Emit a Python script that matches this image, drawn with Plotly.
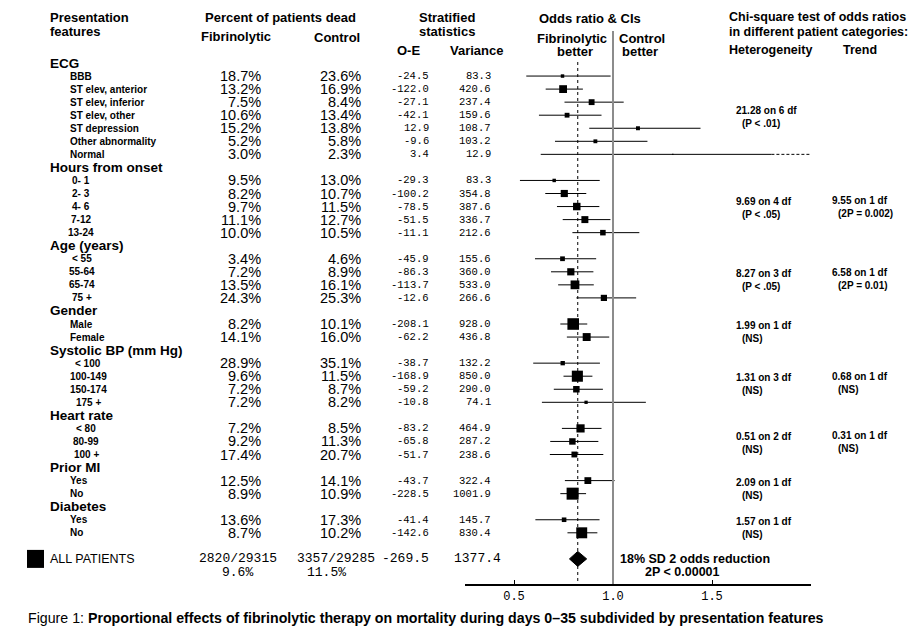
import math

import plotly.graph_objects as go

W, H = 922, 630
SANS = "Liberation Sans, Arial, Helvetica, sans-serif"
MONO = "Liberation Mono, Courier New, monospace"
NARROW = "Liberation Sans Narrow, Arial Narrow, Liberation Sans, Arial, sans-serif"

# ---- data ----
groups = ["ECG", "Hours from onset", "Age (years)", "Gender",
          "Systolic BP (mm Hg)", "Heart rate", "Prior MI", "Diabetes"]
subgroups = [
    ["BBB", "ST elev, anterior", "ST elev, inferior", "ST elev, other",
     "ST depression", "Other abnormality", "Normal"],
    ["0- 1", "2- 3", "4- 6", "7-12", "13-24"],
    ["< 55", "55-64", "65-74", "75 +"],
    ["Male", "Female"],
    ["< 100", "100-149", "150-174", "175 +"],
    ["< 80", "80-99", "100 +"],
    ["Yes", "No"],
    ["Yes", "No"],
]
fib_pct = [18.7, 13.2, 7.5, 10.6, 15.2, 5.2, 3.0,
           9.5, 8.2, 9.7, 11.1, 10.0,
           3.4, 7.2, 13.5, 24.3,
           8.2, 14.1,
           28.9, 9.6, 7.2, 7.2,
           7.2, 9.2, 17.4,
           12.5, 8.9,
           13.6, 8.7]
ctrl_pct = [23.6, 16.9, 8.4, 13.4, 13.8, 5.8, 2.3,
            13.0, 10.7, 11.5, 12.7, 10.5,
            4.6, 8.9, 16.1, 25.3,
            10.1, 16.0,
            35.1, 11.5, 8.7, 8.2,
            8.5, 11.3, 20.7,
            14.1, 10.9,
            17.3, 10.2]
o_minus_e = [-24.5, -122.0, -27.1, -42.1, 12.9, -9.6, 3.4,
             -29.3, -100.2, -78.5, -51.5, -11.1,
             -45.9, -86.3, -113.7, -12.6,
             -208.1, -62.2,
             -38.7, -168.9, -59.2, -10.8,
             -83.2, -65.8, -51.7,
             -43.7, -228.5,
             -41.4, -142.6]
variance = [83.3, 420.6, 237.4, 159.6, 108.7, 103.2, 12.9,
            83.3, 354.8, 387.6, 336.7, 212.6,
            155.6, 360.0, 533.0, 266.6,
            928.0, 436.8,
            132.2, 850.0, 290.0, 74.1,
            464.9, 287.2, 238.6,
            322.4, 1001.9,
            145.7, 830.4]
odds_ratio = [0.745, 0.748, 0.892, 0.768, 1.126, 0.911, 1.302,
              0.703, 0.754, 0.817, 0.858, 0.949,
              0.745, 0.787, 0.808, 0.954,
              0.799, 0.867,
              0.746, 0.820, 0.815, 0.864,
              0.836, 0.795, 0.805,
              0.873, 0.796,
              0.753, 0.842]
ci_low = [0.562, 0.660, 0.755, 0.626, 0.880, 0.707, 0.635,
          0.530, 0.658, 0.717, 0.746, 0.795,
          0.606, 0.687, 0.723, 0.815,
          0.734, 0.767,
          0.597, 0.750, 0.701, 0.641,
          0.742, 0.683, 0.681,
          0.757, 0.734,
          0.608, 0.770]
ci_high = [0.988, 0.848, 1.054, 0.942, 1.442, 1.174, 2.667,
           0.933, 0.865, 0.931, 0.987, 1.133,
           0.915, 0.901, 0.903, 1.117,
           0.870, 0.981,
           0.934, 0.896, 0.949, 1.166,
           0.942, 0.926, 0.951,
           1.008, 0.864,
           0.932, 0.921]

het_stat = ["21.28 on 6 df", "9.69 on 4 df", "8.27 on 3 df", "1.99 on 1 df",
            "1.31 on 3 df", "0.51 on 2 df", "2.09 on 1 df", "1.57 on 1 df"]
het_p = ["(P < .01)", "(P < .05)", "(P < .05)", "(NS)", "(NS)", "(NS)", "(NS)", "(NS)"]
trend_stat = [None, "9.55 on 1 df", "6.58 on 1 df", None, "0.68 on 1 df", "0.31 on 1 df", None, None]
trend_p = [None, "(2P = 0.002)", "(2P = 0.01)", None, "(NS)", "(NS)", None, None]

all_fib = (2820, 29315, 9.6)
all_ctrl = (3357, 29285, 11.5)
all_oe, all_var = -269.5, 1377.4
all_or, all_lo, all_hi = 0.822, 0.780, 0.867

# ---- layout helpers ----
ROW0, ROWH = 63, 13.05
label_pos = [("left", 69), ("center", 81), ("center", 82), ("left", 69),
             ("center", 88), ("center", 86), ("left", 69), ("left", 69)]
ann = []


def txt(x, y, s, size=13, bold=False, anchor="left", family=SANS, yref="y"):
    ann.append(dict(x=x / W, xref="paper", y=y, yref=yref,
                    text=f"<b>{s}</b>" if bold else s, showarrow=False,
                    xanchor=anchor, yanchor="middle", borderpad=0,
                    font=dict(size=size, family=family, color="black")))


# column headers
txt(49, 17, "Presentation", bold=True)
txt(49, 31, "features", bold=True)
txt(280, 17, "Percent of patients dead", bold=True, anchor="center")
txt(236, 36, "Fibrinolytic", bold=True, anchor="center")
txt(337, 37, "Control", bold=True, anchor="center")
txt(447, 17, "Stratified", bold=True, anchor="center")
txt(447, 31, "statistics", bold=True, anchor="center")
txt(408, 50, "O-E", bold=True, anchor="center")
txt(477, 50, "Variance", bold=True, anchor="center")
txt(538, 18, "Odds ratio &amp; CIs", bold=True)
txt(608, 38, "Fibrinolytic", bold=True, anchor="right")
txt(575, 51, "better", bold=True, anchor="center")
txt(618, 38, "Control", bold=True)
txt(640, 51, "better", bold=True, anchor="center")
txt(728, 17, "Chi-square test of odds ratios", size=12.5, bold=True)
txt(728, 32, "in different patient categories:", size=12.5, bold=True)
txt(728, 50, "Heterogeneity", size=12.5, bold=True)
txt(842, 50, "Trend", size=12.5, bold=True)

row_y = []
k = 0
i = 0
for g, (name, subs) in enumerate(zip(groups, subgroups)):
    txt(49, ROW0 + k * ROWH, name, size=13.5, bold=True)
    k += 1
    ys = []
    for s in subs:
        y = ROW0 + k * ROWH
        anchor, lx = label_pos[g]
        txt(lx, y, s, size=10, bold=True, anchor=anchor)
        txt(262, y, f"{fib_pct[i]:.1f}%", size=14.5, anchor="right")
        txt(362, y, f"{ctrl_pct[i]:.1f}%", size=14.5, anchor="right")
        txt(430, y, f"{o_minus_e[i]:.1f}", size=10.5, anchor="right", family=MONO)
        txt(492, y, f"{variance[i]:.1f}", size=10.5, anchor="right", family=MONO)
        ys.append(y)
        row_y.append(y)
        k += 1
        i += 1
    c = sum(ys) / len(ys)
    txt(735, c - 5, het_stat[g], size=10, bold=True)
    txt(741, c + 8, het_p[g], size=10, bold=True)
    if trend_stat[g]:
        txt(831, c - 6, trend_stat[g], size=10, bold=True)
        txt(837, c + 7, trend_p[g], size=10, bold=True)

all_y = ROW0 + (k + 1) * ROWH
txt(49, all_y, "ALL PATIENTS", size=12.5)
txt(238, all_y, f"{all_fib[0]}/{all_fib[1]}", size=13, anchor="center", family=MONO)
txt(336, all_y, f"{all_ctrl[0]}/{all_ctrl[1]}", size=13, anchor="center", family=MONO)
txt(430, all_y, f"{all_oe:.1f}", size=13, anchor="right", family=MONO)
txt(502, all_y, f"{all_var:.1f}", size=13, anchor="right", family=MONO)
txt(237, all_y + 14, f"{all_fib[2]:.1f}%", size=13, anchor="center", family=MONO)
txt(326, all_y + 14, f"{all_ctrl[2]:.1f}%", size=13, anchor="center", family=MONO)
txt(619, all_y, f"{round((1 - all_or) * 100)}% SD 2 odds reduction", size=12.5, bold=True)
txt(644, all_y + 13, "2P &lt; 0.00001", size=12.5, bold=True)

txt(27, 1 - 618 / H, "Figure 1: <b>Proportional effects of fibrinolytic therapy on mortality "
    "during days 0–35 subdivided by presentation features</b>",
    size=14.2, family=NARROW, yref="paper")

# ---- forest plot ----
X_MIN, X_MAX, CLIP = 0.25, 2.0, 1.8
fig = go.Figure()

shown_hi = [min(h, CLIP) for h in ci_high]
fig.add_trace(go.Scatter(
    x=odds_ratio, y=row_y, mode="markers",
    marker=dict(symbol="square", color="black", opacity=1,
                size=[0.38 * math.sqrt(v) for v in variance],
                line=dict(width=0, color="black")),
    error_x=dict(type="data", symmetric=False,
                 array=[h - o for h, o in zip(shown_hi, odds_ratio)],
                 arrayminus=[o - l for o, l in zip(odds_ratio, ci_low)],
                 color="black", thickness=1, width=0),
    cliponaxis=False, hoverinfo="skip"))

ext_x, ext_y = [], []
for h, y in zip(ci_high, row_y):
    if h > CLIP:
        ext_x += [CLIP, min(h, X_MAX), None]
        ext_y += [y, y, None]
fig.add_trace(go.Scatter(x=ext_x, y=ext_y, mode="lines",
                         line=dict(color="black", width=1, dash="3px,2px"),
                         hoverinfo="skip"))

fig.add_trace(go.Scatter(
    x=[all_lo, all_or, all_hi, all_or, all_lo],
    y=[all_y, all_y - 7.5, all_y, all_y + 7.5, all_y],
    mode="lines", fill="toself", fillcolor="black",
    line=dict(color="black", width=1), hoverinfo="skip"))

shapes = [
    dict(type="line", xref="x", yref="y", x0=1, x1=1, y0=31, y1=584,
         line=dict(color="#8c8c8c", width=2)),
    dict(type="line", xref="x", yref="y", x0=all_or, x1=all_or, y0=62, y1=584,
         line=dict(color="black", width=1, dash="3px,3px")),
    dict(type="rect", xref="paper", yref="y", x0=27 / W, x1=44 / W,
         y0=all_y - 9, y1=all_y + 9, fillcolor="black", line=dict(width=0)),
]

fig.update_layout(
    width=W, height=H,
    margin=dict(l=0, r=0, t=0, b=0),
    paper_bgcolor="white", plot_bgcolor="rgba(0,0,0,0)",
    showlegend=False,
    font=dict(family=SANS, color="black"),
    xaxis=dict(domain=[(613 - 0.75 * 198) / W, (613 + 198) / W],
               range=[X_MIN, X_MAX], tickvals=[0.5, 1.0, 1.5],
               ticktext=["0.5", "1.0", "1.5"], ticks="inside", ticklen=4,
               tickcolor="black", tickfont=dict(family=MONO, size=12, color="black"),
               showline=True, linecolor="black", linewidth=2,
               showgrid=False, zeroline=False, automargin=False, fixedrange=True),
    yaxis=dict(domain=[(H - 584) / H, 1], range=[584, 0], visible=False,
               automargin=False, fixedrange=True),
    shapes=shapes,
    annotations=ann,
)

# page body has a default 8px margin; drop it so the figure sits at the corner
fig.write_html("out.html", config={"displayModeBar": False},
               post_script="document.body.style.margin = '0';")
